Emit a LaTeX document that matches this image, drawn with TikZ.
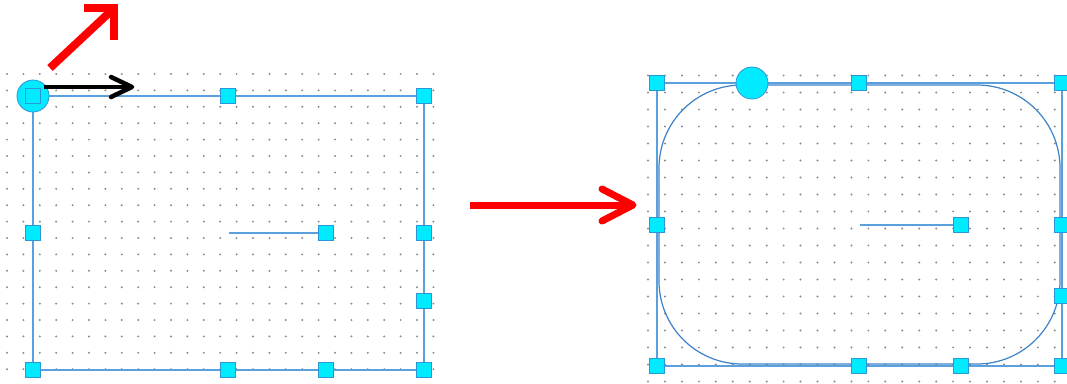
\documentclass[tikz,border=0pt]{standalone}
\definecolor{selblue}{RGB}{90,160,220}
\definecolor{curveblue}{RGB}{60,130,200}
\definecolor{handlecyan}{RGB}{0,235,255}
\definecolor{handleedge}{RGB}{45,150,215}
\definecolor{dotgray}{RGB}{140,140,140}
\definecolor{arrowred}{RGB}{255,0,0}
\tikzset{
  handle/.style={rectangle, draw=handleedge, fill=handlecyan, minimum size=15pt, inner sep=0pt, line width=1pt},
  rothandle/.style={circle, draw=handleedge, fill=handlecyan, minimum size=32pt, inner sep=0pt, line width=0.8pt},
  frameline/.style={draw=selblue, line width=1.8pt},
  gdot/.style={fill=dotgray},
  redarrow/.style={draw=arrowred, line width=7pt},
  blackarrow/.style={draw=black, line width=4.5pt}
}
\begin{document}
\begin{tikzpicture}[x=1pt,y=-1pt]
\useasboundingbox (0,0) rectangle (1067,383);
\fill[white] (0,0) rectangle (1067,383);
% grid dots
\foreach \i in {0,...,26}{\foreach \j in {0,...,18}{\fill[gdot] (7+16.4*\i, 74+16.4*\j) circle (1.1pt);}}
\foreach \i in {0,...,24}{\foreach \j in {0,...,18}{\fill[gdot] (648+16.95*\i, 75.5+17*\j) circle (1.1pt);}}
% left frame
\coordinate (L1) at (33,96);
\coordinate (L2) at (424,96);
\coordinate (L3) at (424,370);
\coordinate (L4) at (33,370);
\coordinate (Lin) at (229,233);
\draw[frameline] (L1) -- (L2) -- (L3) -- (L4) -- cycle;
\node[rothandle] (lrot) at (L1) {};
\node[handle] (lTL) at (L1) {};
\node[handle] (lTM) at (228,96) {};
\node[handle] (lTR) at (L2) {};
\node[handle] (lML) at (33,233) {};
\node[handle] (lMR) at (424,233) {};
\node[handle] (lMR2) at (424,301) {};
\node[handle] (lBL) at (L4) {};
\node[handle] (lBM) at (228,370) {};
\node[handle] (lBM2) at (326,370) {};
\node[handle] (lBR) at (L3) {};
\draw[frameline, line width=1.4pt] (Lin) -- (326,233);
\node[handle] (lIn) at (326,233) {};
% right frame
\coordinate (R1) at (657,83);
\coordinate (R2) at (1062,83);
\coordinate (R3) at (1062,366);
\coordinate (R4) at (657,366);
\coordinate (Rin) at (860,225);
\draw[frameline] (R1) -- (R2) -- (R3) -- (R4) -- cycle;
\draw[curveblue, line width=1.2pt, rounded corners=83pt] (659,85) rectangle (1060,364);
\node[rothandle] (rrot) at (752,83) {};
\node[handle] (rTL) at (R1) {};
\node[handle] (rTM) at (859,83) {};
\node[handle] (rTR) at (R2) {};
\node[handle] (rML) at (657,225) {};
\node[handle] (rMR) at (1062,225) {};
\node[handle] (rMR2) at (1062,296) {};
\node[handle] (rBL) at (R4) {};
\node[handle] (rBM) at (859,366) {};
\node[handle] (rBM2) at (961,366) {};
\node[handle] (rBR) at (R3) {};
\draw[frameline, line width=1.4pt] (Rin) -- (961,225);
\node[handle] (rIn) at (961,225) {};
% black arrow
\coordinate (ba0) at (44,87);
\coordinate (ba1) at (132,87);
\draw[blackarrow] (ba0) -- (130,87);
\draw[blackarrow, line cap=round, line join=round] (111,77) -- (ba1) -- (111,97);
% red diagonal arrow
\coordinate (rd0) at (50,68);
\coordinate (rd1) at (114,8);
\draw[redarrow, line width=8pt] (rd0) -- (111,11);
\draw[redarrow, line width=8pt, line join=miter] (84,8) -- (rd1) -- (114,40);
% red horizontal arrow
\coordinate (rh0) at (470,205);
\coordinate (rh1) at (633,205);
\draw[redarrow] (rh0) -- (628,205);
\draw[redarrow, line cap=round, line join=round] (602,189) -- (rh1) -- (602,221);
\end{tikzpicture}
\end{document}
